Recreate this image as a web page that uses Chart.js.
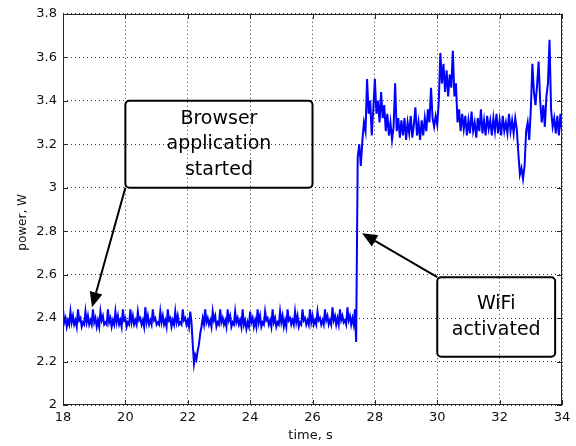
<!DOCTYPE html>
<html><head><meta charset="utf-8">
<script src="https://cdn.jsdelivr.net/npm/chart.js@4/dist/chart.umd.min.js"></script>
<style>html,body{margin:0;padding:0;background:#fff;}#wrap{width:576px;height:446px;}</style>
</head><body><div id="wrap"><canvas id="c" width="576" height="446"></canvas></div>
<script>
// ---- data (time in s, power in W) ----
const times = [
18.00,18.04,18.08,18.12,18.16,18.20, 18.24,18.28,18.32,18.36,18.40,18.44,
18.48,18.52,18.56,18.60,18.64,18.68, 18.72,18.76,18.80,18.84,18.88,18.92,
18.96,19.00,19.04,19.08,19.12,19.16, 19.20,19.24,19.28,19.32,19.36,19.40,
19.44,19.48,19.52,19.56,19.60,19.64, 19.68,19.72,19.76,19.80,19.84,19.88,
19.92,19.96,20.00,20.04,20.08,20.12, 20.16,20.20,20.24,20.28,20.32,20.36,
20.40,20.44,20.48,20.52,20.56,20.60, 20.64,20.68,20.72,20.76,20.80,20.84,
20.88,20.92,20.96,21.00,21.04,21.08, 21.12,21.16,21.20,21.24,21.28,21.32,
21.36,21.40,21.44,21.48,21.52,21.56, 21.60,21.64,21.68,21.72,21.76,21.80,
21.84,21.88,21.92,21.96,22.00,22.04, 22.08,22.12,22.16,22.20,22.24,22.28,
22.32,22.36,22.40,22.44,22.48,22.52, 22.56,22.60,22.64,22.68,22.72,22.76,
22.80,22.84,22.88,22.92,22.96,23.00, 23.04,23.08,23.12,23.16,23.20,23.24,
23.28,23.32,23.36,23.40,23.44,23.48, 23.52,23.56,23.60,23.64,23.68,23.72,
23.76,23.80,23.84,23.88,23.92,23.96, 24.00,24.04,24.08,24.12,24.16,24.20,
24.24,24.28,24.32,24.36,24.40,24.44, 24.48,24.52,24.56,24.60,24.64,24.68,
24.72,24.76,24.80,24.84,24.88,24.92, 24.96,25.00,25.04,25.08,25.12,25.16,
25.20,25.24,25.28,25.32,25.36,25.40, 25.44,25.48,25.52,25.56,25.60,25.64,
25.68,25.72,25.76,25.80,25.84,25.88, 25.92,25.96,26.00,26.04,26.08,26.12,
26.16,26.20,26.24,26.28,26.32,26.36, 26.40,26.44,26.48,26.52,26.56,26.60,
26.64,26.68,26.72,26.76,26.80,26.84, 26.88,26.92,26.96,27.00,27.04,27.08,
27.12,27.16,27.20,27.24,27.28,27.32, 27.36,27.40,
27.45,27.50,27.55,27.60,27.65,27.70,27.75,27.80,27.85,27.90,27.95,
28.00,28.05,28.10,28.15,28.20,28.25,28.30,28.35,28.40,28.45,28.50,28.55,28.60,28.65,28.70,28.75,28.80,28.85,28.90,28.95,
29.00,29.05,29.10,29.15,29.20,29.25,29.30,29.35,29.40,29.45,29.50,29.55,29.60,29.65,29.70,29.75,29.80,29.85,29.90,29.95,
30.00,30.05,30.10,30.15,30.20,30.25,30.30,30.35,30.40,30.45,30.50,30.55,30.60,30.65,30.70,30.75,30.80,30.85,30.90,30.95,
31.00,31.05,31.10,31.15,31.20,31.25,31.30,31.35,31.40,31.45,31.50,31.55,31.60,31.65,31.70,31.75,31.80,31.85,31.90,31.95,
32.00,32.05,32.10,32.15,32.20,32.25,32.30,32.35,32.40,32.45,32.50,32.55,32.60,32.65,32.70,32.75,32.80,32.85,32.90,32.95,
33.00,33.05,33.10,33.15,33.20,33.25,33.30,33.35,33.40,33.45,33.50,33.55,33.60,33.65,33.70,33.75,33.80,33.85,33.90,33.95,
34.00
];
const power = [
2.44,2.38,2.40,2.36,2.39,2.37, 2.43,2.38,2.41,2.37,2.39,2.36,
2.44,2.39,2.40,2.36,2.38,2.37, 2.43,2.38,2.41,2.37,2.39,2.37,
2.44,2.38,2.40,2.36,2.39,2.36, 2.43,2.39,2.41,2.37,2.38,2.37,
2.44,2.38,2.40,2.36,2.39,2.37, 2.43,2.38,2.41,2.37,2.39,2.36,
2.44,2.39,2.40,2.36,2.38,2.37, 2.44,2.38,2.41,2.37,2.39,2.37,
2.43,2.39,2.40,2.37,2.39,2.36, 2.45,2.38,2.41,2.37,2.39,2.37,
2.44,2.39,2.40,2.37,2.38,2.37, 2.43,2.38,2.41,2.37,2.39,2.36,
2.44,2.39,2.40,2.36,2.39,2.37, 2.43,2.38,2.41,2.37,2.38,2.37,
2.44,2.39,2.40,2.37,2.39,2.36, 2.43,2.38,2.28,2.19,2.23,2.21,
2.25,2.28,2.33,2.36,2.40,2.37, 2.44,2.38,2.40,2.37,2.39,2.36,
2.43,2.39,2.41,2.36,2.38,2.37, 2.44,2.38,2.40,2.37,2.39,2.36,
2.44,2.39,2.41,2.36,2.38,2.37, 2.43,2.38,2.40,2.37,2.39,2.36,
2.44,2.37,2.39,2.35,2.38,2.36, 2.43,2.38,2.40,2.36,2.39,2.36,
2.44,2.38,2.41,2.36,2.38,2.37, 2.43,2.39,2.40,2.37,2.39,2.36,
2.44,2.38,2.40,2.36,2.38,2.37, 2.43,2.38,2.41,2.36,2.39,2.36,
2.44,2.39,2.40,2.37,2.39,2.37, 2.43,2.38,2.41,2.36,2.38,2.37,
2.44,2.39,2.40,2.37,2.39,2.37, 2.44,2.38,2.41,2.37,2.39,2.37,
2.43,2.39,2.40,2.37,2.39,2.37, 2.44,2.39,2.41,2.37,2.39,2.37,
2.45,2.39,2.41,2.37,2.40,2.37, 2.44,2.39,2.41,2.38,2.39,2.37,
2.45,2.39,2.41,2.37,2.40,2.37, 2.44,2.29,
3.14,3.20,3.10,3.22,3.30,3.26,3.50,3.34,3.40,3.24,3.36,
3.50,3.34,3.40,3.30,3.44,3.32,3.38,3.26,3.34,3.24,3.30,3.22,3.28,3.48,3.26,3.32,3.23,3.31,3.24,3.32,
3.22,3.30,3.25,3.33,3.23,3.29,3.37,3.24,3.30,3.22,3.31,3.24,3.32,3.26,3.36,3.30,3.46,3.32,3.28,3.33,
3.29,3.40,3.62,3.48,3.57,3.44,3.54,3.42,3.52,3.46,3.63,3.42,3.48,3.30,3.36,3.26,3.34,3.27,3.33,3.24,
3.31,3.25,3.35,3.26,3.30,3.23,3.32,3.26,3.36,3.25,3.31,3.24,3.33,3.27,3.31,3.24,3.32,3.26,3.34,3.25,
3.31,3.24,3.33,3.26,3.30,3.25,3.34,3.26,3.31,3.25,3.32,3.27,3.16,3.06,3.09,3.04,3.10,3.26,3.30,3.22,
3.36,3.57,3.44,3.38,3.47,3.58,3.40,3.30,3.38,3.28,3.42,3.48,3.68,3.36,3.28,3.32,3.25,3.33,3.24,3.34,
3.26
];
const xTicks = [18,20,22,24,26,28,30,32,34];
const yTicks = [2,2.2,2.4,2.6,2.8,3,3.2,3.4,3.6,3.8];
const xTitle = 'time, s';
const yTitle = 'power, W';
const noteTexts = [['Browser','application','started'], ['WiFi','activated']];

// annotation anchors in data units
const notes = [
  {lines: noteTexts[0], x0:20, x1:26, yTop:3.4, yBot:3.0, from:[20,3.0], to:[18.93,2.45]},
  {lines: noteTexts[1], x0:30, x1:33.78, yTop:2.588, yBot:2.222, from:[30,2.588], to:[27.59,2.79]}
];

const decor = {
  id: 'decor',
  afterDraw(chart) {
    const ctx = chart.ctx, xs = chart.scales.x, ys = chart.scales.y, a = chart.chartArea;
    ctx.save();
    ctx.strokeStyle = '#262626'; ctx.lineWidth = 1; ctx.setLineDash([]);
    ctx.strokeRect(Math.round(a.left)+0.5, Math.round(a.top)+0.5, Math.round(a.right-a.left)-1, Math.round(a.bottom-a.top)-1);
    ctx.beginPath();
    const tl = 5;
    xTicks.forEach(v => {
      const p = Math.round(xs.getPixelForValue(v)) + 0.5;
      ctx.moveTo(p, a.bottom); ctx.lineTo(p, a.bottom - tl);
      ctx.moveTo(p, a.top); ctx.lineTo(p, a.top + tl);
    });
    yTicks.forEach(v => {
      const p = Math.round(ys.getPixelForValue(v)) + 0.5;
      ctx.moveTo(a.left, p); ctx.lineTo(a.left + tl, p);
      ctx.moveTo(a.right, p); ctx.lineTo(a.right - tl, p);
    });
    ctx.stroke();
    ctx.fillStyle = '#111';
    ctx.font = '13px "DejaVu Sans"';
    ctx.textAlign = 'center'; ctx.textBaseline = 'middle';
    ctx.fillText(xTitle, (a.left + a.right)/2 - 2, a.bottom + 31);
    ctx.save();
    ctx.font = '12px "DejaVu Sans"';
    ctx.translate(23, (a.top + a.bottom)/2 + 13);
    ctx.rotate(-Math.PI/2);
    ctx.fillText(yTitle, 0, 0);
    ctx.restore();
    notes.forEach(n => {
      const L = xs.getPixelForValue(n.x0), R = xs.getPixelForValue(n.x1);
      const T = ys.getPixelForValue(n.yTop), B = ys.getPixelForValue(n.yBot);
      ctx.strokeStyle = '#000'; ctx.lineWidth = 2;
      ctx.beginPath();
      ctx.roundRect(L, T, R - L, B - T, 4);
      ctx.stroke();
      ctx.fillStyle = '#000';
      ctx.font = '19px "DejaVu Sans"';
      ctx.textAlign = 'center'; ctx.textBaseline = 'alphabetic';
      const cx = (L + R)/2, cy = (T + B)/2, lh = 25.5;
      n.lines.forEach((s, i) => {
        ctx.fillText(s, cx, cy + (i - (n.lines.length - 1)/2) * lh + 5);
      });
      const fx = xs.getPixelForValue(n.from[0]), fy = ys.getPixelForValue(n.from[1]);
      const tx = xs.getPixelForValue(n.to[0]), ty = ys.getPixelForValue(n.to[1]);
      const ang = Math.atan2(ty - fy, tx - fx);
      const hl = 15, hw = 6.5;
      const bx = tx - hl*Math.cos(ang), by = ty - hl*Math.sin(ang);
      ctx.beginPath(); ctx.moveTo(fx, fy); ctx.lineTo(bx, by); ctx.stroke();
      ctx.beginPath();
      ctx.moveTo(tx, ty);
      ctx.lineTo(bx + hw*Math.sin(ang), by - hw*Math.cos(ang));
      ctx.lineTo(bx - hw*Math.sin(ang), by + hw*Math.cos(ang));
      ctx.closePath(); ctx.fill();
    });
    ctx.restore();
  }
};

const tickFont = {family: 'DejaVu Sans', size: 13};
new Chart(document.getElementById('c'), {
  type: 'line',
  data: {
    datasets: [{
      data: times.map((t, i) => ({x: t, y: power[i]})),
      borderColor: '#0000ff',
      borderWidth: 2,
      pointRadius: 0,
      tension: 0,
      fill: false
    }]
  },
  options: {
    responsive: false,
    animation: false,
    devicePixelRatio: 1,
    layout: {padding: {top: 13, right: 14, left: 0, bottom: 0}},
    plugins: {legend: {display: false}, tooltip: {enabled: false}},
    scales: {
      x: {
        type: 'linear', min: 18, max: 34,
        afterBuildTicks: s => { s.ticks = xTicks.map(v => ({value: v})); },
        afterFit: s => { s.height = 41; },
        ticks: {font: tickFont, color: '#111', padding: 5, maxRotation: 0, autoSkip: false, callback: v => String(v)},
        grid: {color: '#3a3a3a', drawTicks: false, lineWidth: 1},
        border: {display: false, dash: [1, 3]}
      },
      y: {
        type: 'linear', min: 2, max: 3.8,
        afterBuildTicks: s => { s.ticks = yTicks.map(v => ({value: v})); },
        afterFit: s => { s.width = 63; },
        ticks: {font: tickFont, color: '#111', padding: 6, autoSkip: false, callback: v => String(v)},
        grid: {color: '#3a3a3a', drawTicks: false, lineWidth: 1},
        border: {display: false, dash: [1, 3]}
      }
    }
  },
  plugins: [decor]
});
</script>
</body></html>
